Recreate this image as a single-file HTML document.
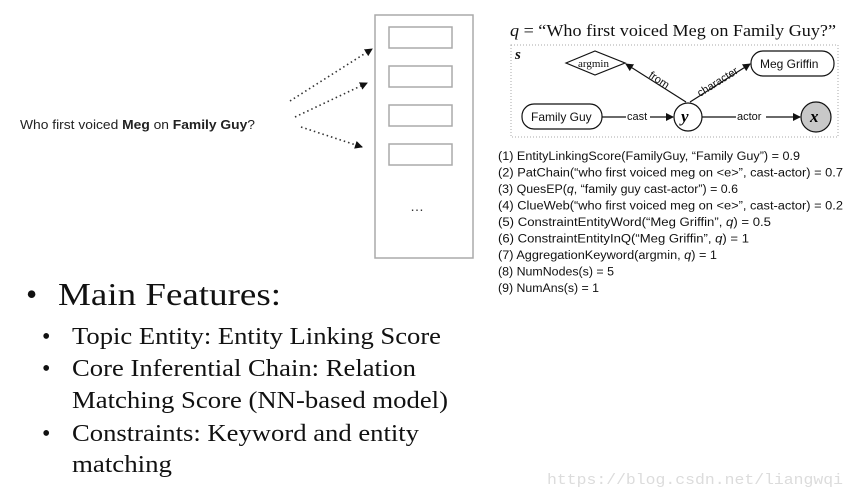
<!DOCTYPE html>
<html><head><style>html,body{margin:0;padding:0;background:#fff;width:857px;height:497px;overflow:hidden}</style></head>
<body>
<svg width="857" height="497" xmlns="http://www.w3.org/2000/svg">
<defs><marker id="a" markerWidth="8" markerHeight="8" refX="7" refY="4" orient="auto" markerUnits="userSpaceOnUse"><path d="M0,0 L8,4 L0,8 z" fill="#111"/></marker></defs>
<text x="20" y="129" font-family="Liberation Sans, sans-serif" font-size="13" fill="#222" textLength="235" lengthAdjust="spacingAndGlyphs">Who first voiced <tspan font-weight="bold">Meg</tspan> on <tspan font-weight="bold">Family Guy</tspan>?</text>
<g stroke="#333" stroke-width="1.6" stroke-dasharray="1.5,3" fill="none">
<line x1="290" y1="101" x2="372" y2="49" marker-end="url(#a)"/>
<line x1="295" y1="117" x2="367" y2="83" marker-end="url(#a)"/>
<line x1="301" y1="127" x2="362" y2="147" marker-end="url(#a)"/>
</g>
<g stroke="#aaa" stroke-width="1.5" fill="none">
<rect x="375" y="15" width="98" height="243"/>
<rect x="389" y="27" width="63" height="21"/>
<rect x="389" y="66" width="63" height="21"/>
<rect x="389" y="105" width="63" height="21"/>
<rect x="389" y="144" width="63" height="21"/>
</g>
<text x="410" y="211" font-family="Liberation Sans, sans-serif" font-size="14" fill="#333">…</text>
<text x="510" y="36" font-family="Liberation Serif, serif" font-size="17" fill="#111" textLength="326" lengthAdjust="spacingAndGlyphs"><tspan font-style="italic">q</tspan> = “Who first voiced Meg on Family Guy?”</text>
<rect x="511" y="45" width="327" height="92" fill="none" stroke="#aaa" stroke-dasharray="1,2"/>
<text x="515" y="59" font-family="Liberation Serif, serif" font-size="15" font-weight="bold" font-style="italic" fill="#111">s</text>
<g stroke="#111" stroke-width="1.2" fill="#fff">
<polygon points="566,63 595,51 625,63 595,75"/>
<rect x="751" y="51" width="83" height="25" rx="12"/>
<rect x="522" y="104" width="80" height="25" rx="12"/>
<circle cx="688" cy="117" r="14"/>
<circle cx="816" cy="117" r="15" fill="#c8c8c8"/>
</g>
<g stroke="#111" stroke-width="1.2" fill="none">
<line x1="602" y1="117" x2="673" y2="117" marker-end="url(#a)"/>
<line x1="702" y1="117" x2="800" y2="117" marker-end="url(#a)"/>
<line x1="686" y1="102" x2="626" y2="64" marker-end="url(#a)"/>
<line x1="690" y1="102" x2="750" y2="64" marker-end="url(#a)"/>
</g>
<g font-family="Liberation Sans, sans-serif" font-size="11" fill="#111">
<text x="578" y="67" font-family="Liberation Serif, serif">argmin</text>
<text x="760" y="68" font-size="12">Meg Griffin</text>
<text x="531" y="121" font-size="12">Family Guy</text>
<rect x="626" y="111" width="24" height="12" fill="#fff"/><text x="627" y="120">cast</text>
<rect x="736" y="111" width="30" height="12" fill="#fff"/><text x="737" y="120">actor</text>
<text transform="translate(648,77) rotate(33)">from</text>
<text transform="translate(700,97) rotate(-32)">character</text>
</g>
<text x="681" y="122" font-family="Liberation Serif, serif" font-size="17" font-weight="bold" font-style="italic">y</text>
<text x="810" y="122" font-family="Liberation Serif, serif" font-size="17" font-weight="bold" font-style="italic">x</text>
<g font-family="Liberation Sans, sans-serif" font-size="11.5" fill="#111">
<text x="498" y="160" textLength="302" lengthAdjust="spacingAndGlyphs">(1) EntityLinkingScore(FamilyGuy, “Family Guy”) = 0.9</text>
<text x="498" y="176.5" textLength="345" lengthAdjust="spacingAndGlyphs">(2) PatChain(“who first voiced meg on &lt;e&gt;”, cast-actor) = 0.7</text>
<text x="498" y="193" textLength="240" lengthAdjust="spacingAndGlyphs">(3) QuesEP(<tspan font-style="italic">q</tspan>, “family guy cast-actor”) = 0.6</text>
<text x="498" y="209.5" textLength="345" lengthAdjust="spacingAndGlyphs">(4) ClueWeb(“who first voiced meg on &lt;e&gt;”, cast-actor) = 0.2</text>
<text x="498" y="226" textLength="273" lengthAdjust="spacingAndGlyphs">(5) ConstraintEntityWord(“Meg Griffin”, <tspan font-style="italic">q</tspan>) = 0.5</text>
<text x="498" y="242.5" textLength="251" lengthAdjust="spacingAndGlyphs">(6) ConstraintEntityInQ(“Meg Griffin”, <tspan font-style="italic">q</tspan>) = 1</text>
<text x="498" y="259" textLength="219" lengthAdjust="spacingAndGlyphs">(7) AggregationKeyword(argmin, <tspan font-style="italic">q</tspan>) = 1</text>
<text x="498" y="275.5" textLength="116" lengthAdjust="spacingAndGlyphs">(8) NumNodes(s) = 5</text>
<text x="498" y="292" textLength="101" lengthAdjust="spacingAndGlyphs">(9) NumAns(s) = 1</text>
</g>
<g font-family="Liberation Serif, serif" fill="#111">
<text x="26" y="305" font-size="32">•</text>
<text x="58" y="305" font-size="32" textLength="223" lengthAdjust="spacingAndGlyphs">Main Features:</text>
<g font-size="24">
<text x="42" y="344">•</text><text x="72" y="344" textLength="369" lengthAdjust="spacingAndGlyphs">Topic Entity: Entity Linking Score</text>
<text x="42" y="376">•</text><text x="72" y="376" textLength="344" lengthAdjust="spacingAndGlyphs">Core Inferential Chain: Relation</text>
<text x="72" y="408" textLength="376" lengthAdjust="spacingAndGlyphs">Matching Score (NN-based model)</text>
<text x="42" y="441">•</text><text x="72" y="441" textLength="347" lengthAdjust="spacingAndGlyphs">Constraints: Keyword and entity</text>
<text x="72" y="472" textLength="100" lengthAdjust="spacingAndGlyphs">matching</text>
</g></g>
<text x="547" y="484" font-family="Liberation Mono, monospace" font-size="15" fill="#dcdcdc" textLength="296" lengthAdjust="spacingAndGlyphs">https://blog.csdn.net/liangwqi</text>
</svg>
</body></html>
